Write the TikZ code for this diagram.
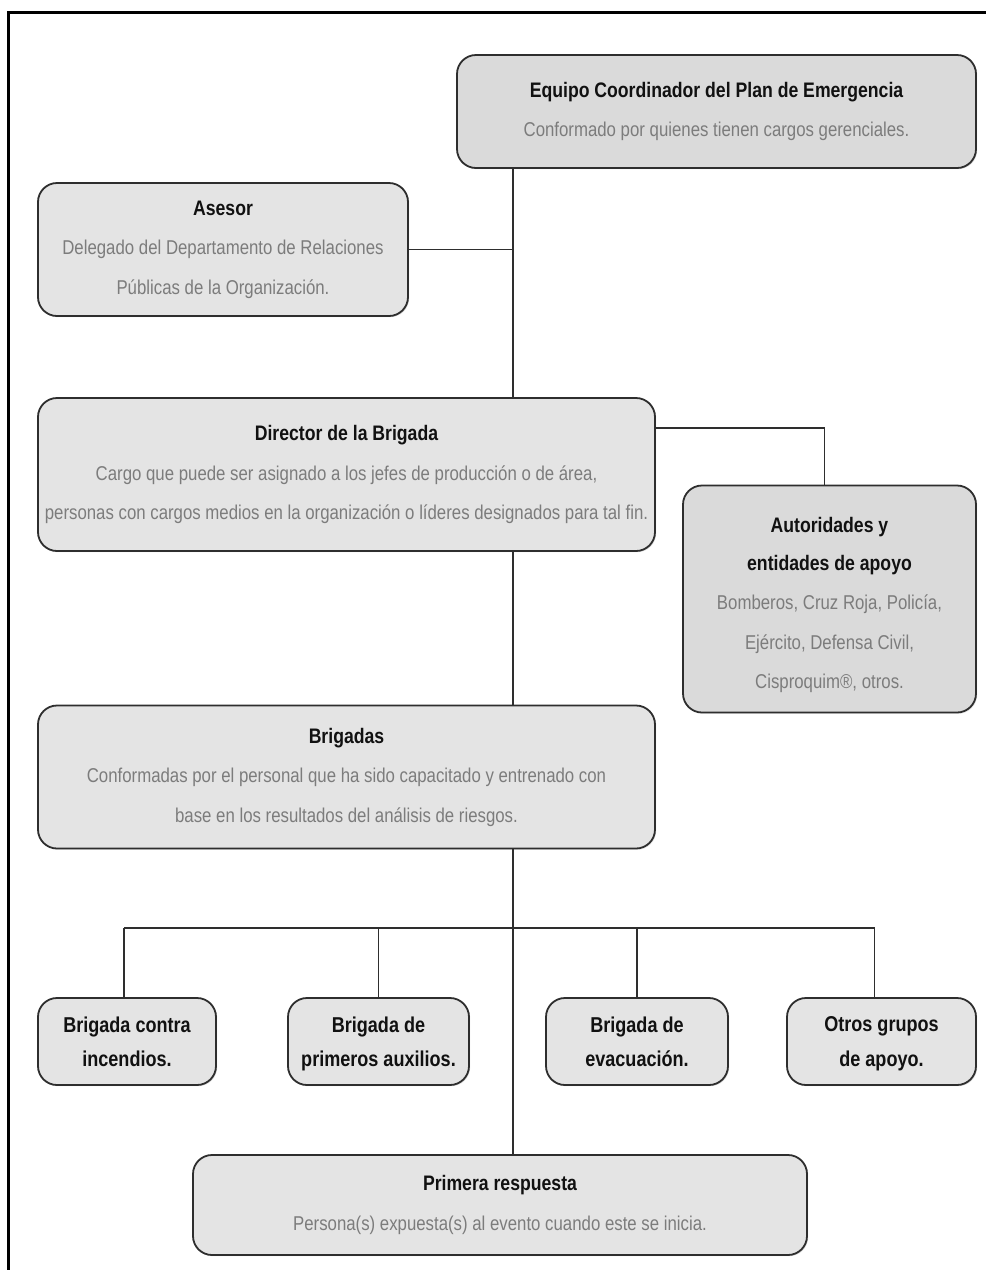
\documentclass[tikz,border=0pt]{standalone}
\usepackage{fontspec}
\setmainfont{Liberation Sans}[FakeStretch=0.84]
\usetikzlibrary{shadows}
\definecolor{boxfill}{HTML}{E4E4E4}
\definecolor{boxfilldark}{HTML}{DADADA}
\definecolor{boxline}{HTML}{2E2E2E}
\definecolor{subtext}{HTML}{7C7C7C}
\definecolor{titletext}{HTML}{111111}
\tikzset{
  box/.style={draw=boxline, line width=1.8pt, fill=boxfill, rounded corners=19pt,
    align=center, inner sep=0pt, text=titletext,
    font=\fontsize{20}{39.5}\selectfont,
    drop shadow={opacity=0.25, shadow xshift=1.2pt, shadow yshift=-1.2pt}},
  darkbox/.style={box, fill=boxfilldark},
  smallbox/.style={box, font=\fontsize{21.5}{34.5}\selectfont\bfseries, text depth=0pt},
  link/.style={draw=boxline, line width=1.7pt},
  frame/.style={draw=black, line width=2.6pt}
}
\newcommand{\ttl}[1]{{\fontsize{21}{39.5}\selectfont\bfseries #1}}
\newcommand{\sbt}[1]{{\color{subtext}#1}}
\begin{document}
\begin{tikzpicture}[x=1pt,y=-1pt]
\useasboundingbox (0,0) rectangle (986,1270);
\fill[white] (0,0) rectangle (986,1270);
\draw[frame] (8.5,1270) -- (8.5,12.5) -- (986,12.5);

\coordinate (tx) at (513,0);
\coordinate (bus) at (0,928);
\coordinate (dirlink) at (0,428);

\node[darkbox, minimum width=519, minimum height=113] (equipo) at (716.5,111.5)
  {\ttl{Equipo Coordinador del Plan de Emergencia}\\ \sbt{Conformado por quienes tienen cargos gerenciales.}};
\node[box, minimum width=370, minimum height=133] (asesor) at (223,249.5)
  {\ttl{Asesor}\\ \sbt{Delegado del Departamento de Relaciones}\\ \sbt{Públicas de la Organización.}};
\node[box, minimum width=617, minimum height=153] (director) at (346.5,474.5)
  {\ttl{Director de la Brigada}\\ \sbt{Cargo que puede ser asignado a los jefes de producción o de área,}\\ \sbt{personas con cargos medios en la organización o líderes designados para tal fin.}};
\node[darkbox, minimum width=293, minimum height=227] (autoridades) at (829.5,599)
  {\ttl{\rule{0pt}{27pt}Autoridades y}\\[-1.5pt] \ttl{entidades de apoyo}\\ \sbt{Bomberos, Cruz Roja, Policía,}\\ \sbt{Ejército, Defensa Civil,}\\ \sbt{Cisproquim®, otros.}};
\node[box, minimum width=617, minimum height=143] (brigadas) at (346.5,777)
  {\ttl{Brigadas}\\ \sbt{Conformadas por el personal que ha sido capacitado y entrenado con}\\ \sbt{base en los resultados del análisis de riesgos.}};

\node[smallbox, minimum width=178, minimum height=87] (b1) at (127,1041.5)
  {Brigada contra\\ incendios.};
\node[smallbox, minimum width=181, minimum height=87] (b2) at (378.5,1041.5)
  {Brigada de\\ primeros auxilios.};
\node[smallbox, minimum width=182, minimum height=87] (b3) at (637,1041.5)
  {Brigada de\\ evacuación.};
\node[smallbox, minimum width=189, minimum height=87] (b4) at (881.5,1041.5)
  {Otros grupos\\ de apoyo.};

\node[box, minimum width=614, minimum height=100] (primera) at (500,1205)
  {\ttl{Primera respuesta}\\ \sbt{Persona(s) expuesta(s) al evento cuando este se inicia.}};

% trunk
\draw[link] (equipo.south -| tx) -- (director.north -| tx);
\draw[link] (asesor.east) -- (asesor.east -| tx);
\draw[link] (director.south -| tx) -- (brigadas.north -| tx);
\draw[link] (brigadas.south -| tx) -- (primera.north -| tx);
% director to autoridades
\draw[link] (director.east |- dirlink) -| ([xshift=-5pt]autoridades.north);
% bus
\draw[link] ([xshift=-3pt]b1.north |- bus) -- ([xshift=-7pt]b4.north |- bus);
\draw[link] ([xshift=-3pt]b1.north) -- ([xshift=-3pt]b1.north |- bus);
\draw[link] (b2.north) -- (b2.north |- bus);
\draw[link] (b3.north) -- (b3.north |- bus);
\draw[link] ([xshift=-7pt]b4.north) -- ([xshift=-7pt]b4.north |- bus);
\end{tikzpicture}
\end{document}
